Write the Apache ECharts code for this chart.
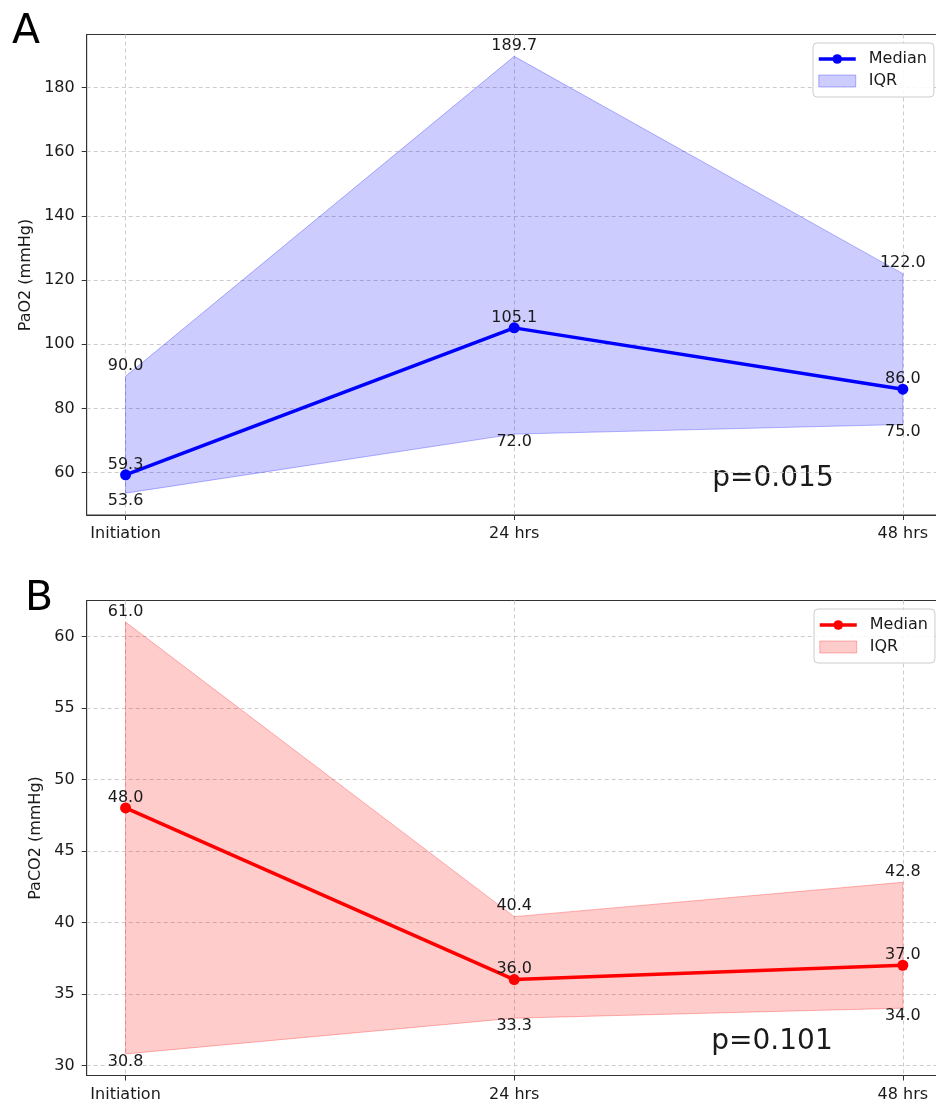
<!DOCTYPE html>
<html><head><meta charset="utf-8">
<script src="https://cdn.jsdelivr.net/npm/echarts@6/dist/echarts.min.js"></script>
<style>html,body{margin:0;padding:0;background:#fff}#c{width:936px;height:1103px}</style>
</head><body><div id="c"></div><script>
const categories = ['Initiation', '24 hrs', '48 hrs'];
const paO2Median = [59.3, 105.1, 86.0];
const paO2Q1 = [53.6, 72.0, 75.0];
const paO2Q3 = [90.0, 189.7, 122.0];
const paCO2Median = [48.0, 36.0, 37.0];
const paCO2Q1 = [30.8, 33.3, 34.0];
const paCO2Q3 = [61.0, 40.4, 42.8];
const paO2Ticks = [60, 80, 100, 120, 140, 160, 180];
const paCO2Ticks = [30, 35, 40, 45, 50, 55, 60];
const panelLetters = ['A', 'B'];
const yTitles = ['PaO2 (mmHg)', 'PaCO2 (mmHg)'];
const pValues = ['p=0.015', 'p=0.101'];

const FONT = 'DejaVu Sans';
const TXT = '#1a1a1a';
const panels = [
  {key: 'A', med: paO2Median, q1: paO2Q1, q3: paO2Q3, ticks: paO2Ticks,
   color: '#0000ff', fill: 'rgba(0,0,255,0.2)', edge: 'rgba(0,0,255,0.28)',
   grid: {left: 86.7, top: 34.5, width: 855, height: 480.5},
   legend: {left: 813, top: 43}},
  {key: 'B', med: paCO2Median, q1: paCO2Q1, q3: paCO2Q3, ticks: paCO2Ticks,
   color: '#ff0000', fill: 'rgba(255,0,0,0.2)', edge: 'rgba(255,0,0,0.28)',
   grid: {left: 86.7, top: 600.5, width: 855, height: 475},
   legend: {left: 814, top: 609}}
];

function limits(lo, hi) { const m = (hi - lo) * 0.05; return [lo - m, hi + m]; }

const grids = [], xAxes = [], yAxes = [], series = [], legends = [];
const labelBase = {fontSize: 16, fontFamily: FONT, color: TXT, opacity: 1};

panels.forEach((p, gi) => {
  grids.push(Object.assign({show: true, borderColor: '#333', borderWidth: 1, backgroundColor: 'transparent',
    containLabel: false, outerBoundsMode: 'none'}, p.grid));
  const [ymin, ymax] = limits(Math.min(...p.q1), Math.max(...p.q3));
  xAxes.push({
    gridIndex: gi, type: 'value', min: -0.1, max: 2.1,
    axisLine: {show: true, onZero: false, lineStyle: {color: '#333', width: 1}},
    axisTick: {show: true, customValues: [0, 1, 2], length: 5, lineStyle: {color: '#333'}},
    axisLabel: {customValues: [0, 1, 2], formatter: v => categories[Math.round(v)], margin: 11, ...labelBase},
    splitLine: {show: true, lineStyle: {color: '#cccccc', type: [4, 3], width: 1}}
  });
  yAxes.push({
    gridIndex: gi, type: 'value', min: ymin, max: ymax,
    axisLine: {show: true, onZero: false, lineStyle: {color: '#333', width: 1}},
    axisTick: {show: true, customValues: p.ticks, length: 5, lineStyle: {color: '#333'}},
    axisLabel: {customValues: p.ticks, margin: 12, ...labelBase},
    splitLine: {show: true, lineStyle: {color: '#cccccc', type: [4, 3], width: 1}}
  });
  const bandData = categories.map((c, i) => [i, p.q1[i], p.q3[i]]);
  series.push({
    name: p.key + ':IQR', type: 'custom', xAxisIndex: gi, yAxisIndex: gi, z: 1,
    itemStyle: {color: p.fill},
    encode: {x: 0, y: [1, 2]},
    data: bandData,
    renderItem: function (params, api) {
      if (params.dataIndex !== 0) return null;
      const pts = [];
      bandData.forEach(d => pts.push(api.coord([d[0], d[2]])));
      bandData.slice().reverse().forEach(d => pts.push(api.coord([d[0], d[1]])));
      return {type: 'polygon', shape: {points: pts}, style: {fill: p.fill, stroke: p.edge, lineWidth: 1}};
    }
  });
  series.push({
    name: p.key + ':Median', type: 'line', xAxisIndex: gi, yAxisIndex: gi, z: 3,
    data: categories.map((c, i) => [i, p.med[i]]),
    symbol: 'circle', symbolSize: 11, showAllSymbol: true,
    itemStyle: {color: p.color}, lineStyle: {color: p.color, width: 3.5},
    label: {show: false}
  });
  const lab = (vals, pos, dist) => ({
    type: 'scatter', xAxisIndex: gi, yAxisIndex: gi, z: 5, silent: true,
    symbolSize: 1, itemStyle: {color: 'rgba(255,255,255,0)'},
    data: categories.map((c, i) => [i, vals[i]]),
    label: {show: true, position: pos, distance: dist, formatter: q => q.value[1].toFixed(1), ...labelBase}
  });
  series.push(lab(p.q3, 'top', 2));
  series.push(lab(p.med, 'top', 2));
  series.push(lab(p.q1, 'bottom', -1));
  legends.push({
    orient: 'vertical', left: p.legend.left, top: p.legend.top,
    padding: [8, 7, 8, 4], itemWidth: 37, itemHeight: 12, itemGap: 6,
    backgroundColor: 'rgba(255,255,255,0.85)', borderColor: '#cccccc', borderWidth: 1, borderRadius: 4,
    textStyle: {fontSize: 16, fontFamily: FONT, color: TXT, padding: [0, 0, 0, 8]},
    formatter: n => n.split(':')[1],
    selectedMode: false,
    data: [
      {name: p.key + ':Median', lineStyle: {width: 3.5, color: p.color}, itemStyle: {color: p.color}},
      {name: p.key + ':IQR', icon: 'rect', itemStyle: {color: p.fill, borderColor: p.edge, borderWidth: 1}}
    ]
  });
});

const graphics = [
  {type: 'text', left: 12, top: 12, style: {text: panelLetters[0], font: '41px "DejaVu Sans"', fill: '#000'}},
  {type: 'text', left: 25, top: 579, style: {text: panelLetters[1], font: '41px "DejaVu Sans"', fill: '#000'}},
  {type: 'text', x: 26, y: 275, rotation: Math.PI / 2, style: {text: yTitles[0], font: '16px "DejaVu Sans"', fill: TXT, align: 'center', verticalAlign: 'middle'}},
  {type: 'text', x: 36, y: 838, rotation: Math.PI / 2, style: {text: yTitles[1], font: '16px "DejaVu Sans"', fill: TXT, align: 'center', verticalAlign: 'middle'}},
  {type: 'text', x: 773, y: 479, style: {text: pValues[0], font: '28px "DejaVu Sans"', fill: TXT, align: 'center', verticalAlign: 'middle'}},
  {type: 'text', x: 772, y: 1042, style: {text: pValues[1], font: '28px "DejaVu Sans"', fill: TXT, align: 'center', verticalAlign: 'middle'}}
];

const chart = echarts.init(document.getElementById('c'), null, {renderer: 'canvas'});
chart.setOption({
  animation: false, backgroundColor: '#fff',
  grid: grids, xAxis: xAxes, yAxis: yAxes, series: series, legend: legends, graphic: graphics
});
</script></body></html>
